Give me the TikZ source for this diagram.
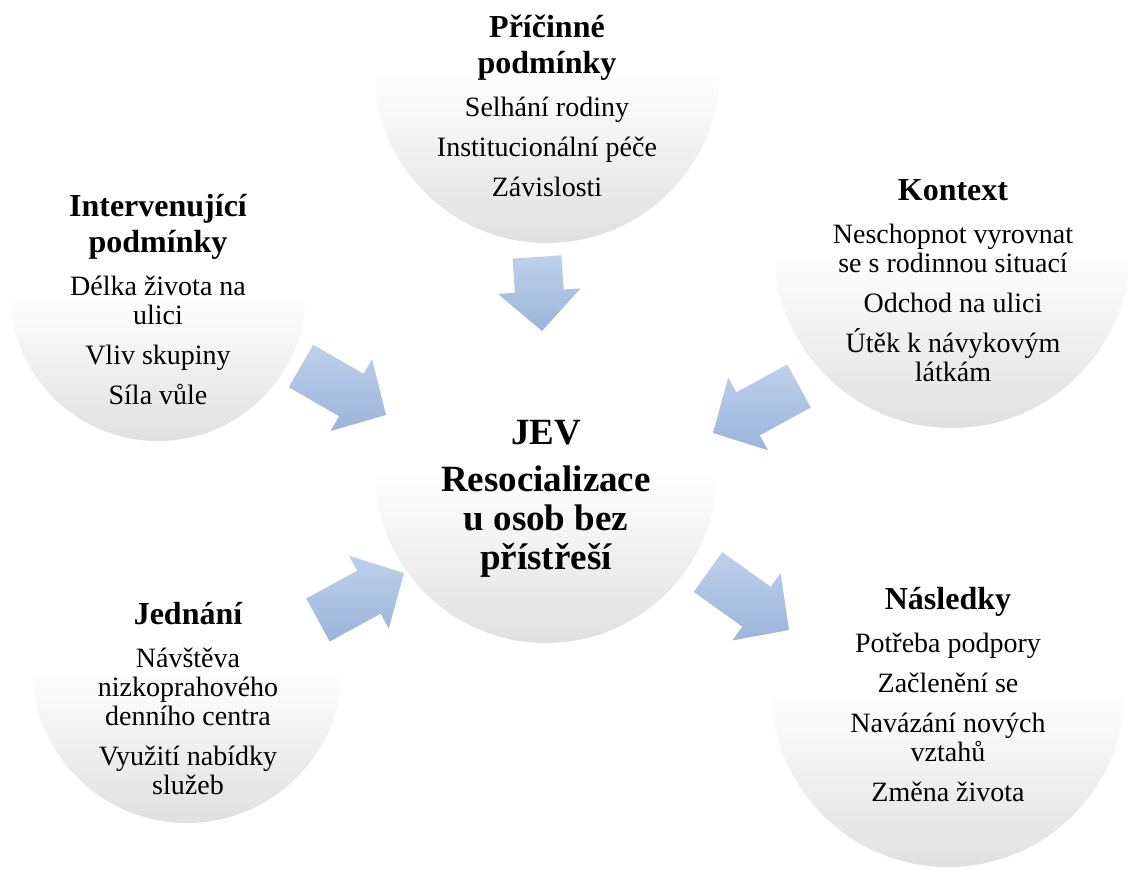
\documentclass[tikz,border=0pt]{standalone}
\usepackage{fontspec}
\setmainfont{Liberation Serif}
\usetikzlibrary{calc}
\definecolor{circbot}{RGB}{224,224,224}
\definecolor{arrtop}{RGB}{190,208,235}
\definecolor{arrbot}{RGB}{156,180,218}
\newcommand\blockarrow[2]{%
  \coordinate (#1-h) at ($(#2)!40pt!(#1)$);
  \path[arrowshade] ($(#1)!24.5pt!90:(#2)$) -- ($(#1-h)!24.5pt!-90:(#1)$) -- ($(#1-h)!41.5pt!-90:(#1)$) -- (#2) -- ($(#1-h)!41.5pt!90:(#1)$) -- ($(#1-h)!24.5pt!90:(#1)$) -- ($(#1)!24.5pt!-90:(#2)$) -- cycle;
}
\newcommand\ttl{\fontsize{32}{36}\selectfont\bfseries\spaceskip=0pt\xspaceskip=0pt }
\newcommand\bdy{\fontsize{28}{29}\selectfont\spaceskip=0pt\xspaceskip=0pt }
\newcommand\cen{\fontsize{37}{39}\selectfont\bfseries\spaceskip=0pt\xspaceskip=0pt }
\tikzset{
  bubble/.style={circle, inner sep=0pt, draw=none, top color=white, bottom color=circbot, middle color=white},
  arrowshade/.style={top color=arrtop, bottom color=arrbot, draw=none},
  txt/.style={text width=360pt, align=flush center, inner sep=0pt, anchor=north, execute at begin node={\setlength{\parskip}{11pt}}}
}
\begin{document}
\begin{tikzpicture}[x=1pt,y=-1pt]
\useasboundingbox (0,0) rectangle (1128,873);
\clip (0,0) rectangle (1128,873);
% circles
\node[bubble, minimum size=346pt] (P) at (547,70) {};
\node[bubble, minimum size=342pt] (C) at (546,472) {};
\node[bubble, minimum size=296pt] (I) at (158,293) {};
\node[bubble, minimum size=356pt] (K) at (952,250) {};
\node[bubble, minimum size=310pt] (J) at (187,668) {};
\node[bubble, minimum size=354pt] (N) at (948,690) {};
% arrows
\coordinate (tA) at (537,257); \coordinate (tB) at (542,331);
\coordinate (lA) at (301,366); \coordinate (lB) at (386,415);
\coordinate (kA) at (799,386); \coordinate (kB) at (713,433);
\coordinate (jA) at (318,620); \coordinate (jB) at (404,573);
\coordinate (nA) at (708,572); \coordinate (nB) at (789,630);
\blockarrow{tA}{tB}
\blockarrow{lA}{lB}
\blockarrow{kA}{kB}
\blockarrow{jA}{jB}
\blockarrow{nA}{nB}
% texts
\node[txt] (Pt) at (547,7) {{\ttl\rule{0pt}{30pt}Příčinné\\podmínky\par}\vspace{3pt}
{\bdy Selhání rodiny\par Institucionální péče\par Závislosti\par}};
\node[txt] (It) at (158,186) {{\ttl\rule{0pt}{30pt}Intervenující\\podmínky\par}\vspace{3pt}
{\bdy Délka života na\\ulici\par Vliv skupiny\par Síla vůle\par}};
\node[txt] (Kt) at (953,170) {{\ttl\rule{0pt}{30pt}Kontext\par}\vspace{3pt}
{\bdy Neschopnot vyrovnat\\se s rodinnou situací\par Odchod na ulici\par Útěk k návykovým\\látkám\par}};
\node[txt] (Ct) at (546,409) {{\cen\rule{0pt}{35pt}JEV\par\vspace{-3pt}Resocializace\\u osob bez\\přístřeší\par}};
\node[txt] (Jt) at (188,594) {{\ttl\rule{0pt}{30pt}Jednání\par}\vspace{3pt}
{\bdy Návštěva\\nizkoprahového\\denního centra\par Využití nabídky\\služeb\par}};
\node[txt] (Nt) at (948,579) {{\ttl\rule{0pt}{30pt}Následky\par}\vspace{3pt}
{\bdy Potřeba podpory\par Začlenění se\par Navázání nových\\vztahů\par Změna života\par}};
\end{tikzpicture}
\end{document}
